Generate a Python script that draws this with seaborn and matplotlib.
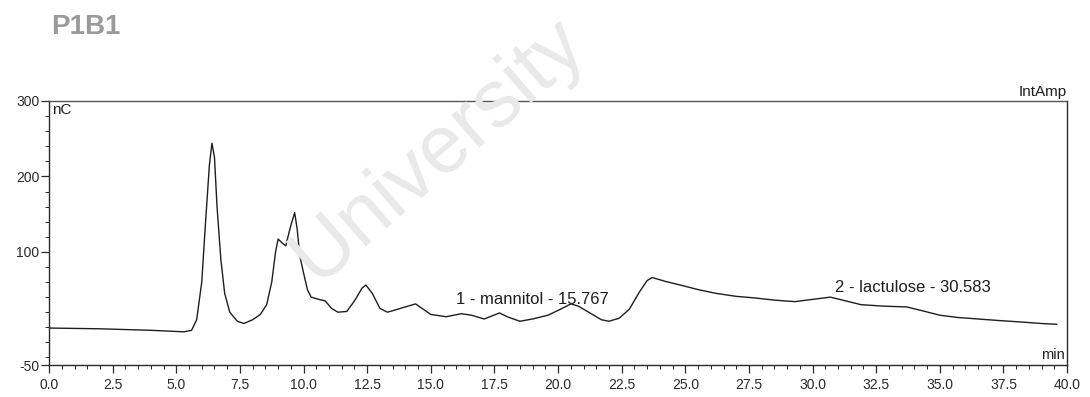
import numpy as np
import pandas as pd
import matplotlib
matplotlib.use("Agg")
import matplotlib.pyplot as plt
import seaborn as sns
from matplotlib.ticker import MultipleLocator, FixedLocator

# Chromatogram trace: retention time (min) and detector response (nC)
time_min = [0.0, 2.0, 4.0, 5.3, 5.6, 5.8, 6.0, 6.15, 6.3, 6.4, 6.5, 6.6, 6.75, 6.9,
            7.1, 7.4, 7.65, 8.0, 8.3, 8.55, 8.75, 8.9, 9.0, 9.15, 9.3, 9.5, 9.65,
            9.75, 9.85, 10.0, 10.15, 10.3, 10.6, 10.85, 11.1, 11.35, 11.7, 12.0,
            12.3, 12.45, 12.7, 13.0, 13.3, 13.7, 14.0, 14.4, 14.7, 15.0, 15.6,
            16.2, 16.6, 17.1, 17.7, 18.0, 18.5, 19.0, 19.6, 20.1, 20.5, 20.8,
            21.2, 21.7, 22.0, 22.4, 22.8, 23.2, 23.5, 23.7, 24.2, 24.8, 25.5,
            26.2, 27.0, 27.7, 28.5, 29.3, 30.0, 30.7, 31.3, 31.9, 32.8, 33.7,
            34.3, 35.0, 35.7, 36.5, 37.3, 38.2, 39.0, 39.6]
response_nc = [-1, -2, -4, -6, -4, 10, 60, 140, 215, 244, 225, 160, 90, 45,
               20, 8, 5, 10, 17, 30, 60, 100, 117, 112, 108, 135, 152,
               130, 95, 72, 50, 40, 37, 35, 25, 20, 21, 35,
               52, 56, 45, 25, 20, 24, 27, 31, 24, 17, 14,
               18, 16, 11, 19, 14, 8, 11, 16, 24, 31, 28,
               20, 10, 8, 12, 24, 47, 62, 66, 61, 56, 50,
               45, 41, 39, 36, 34, 37, 40, 35, 30, 28, 27,
               22, 16, 13, 11, 9, 7, 5, 4]

# Identified peaks
peak_names = ["1 - mannitol - 15.767", "2 - lactulose - 30.583"]
peak_label_x = [19.0, 33.95]
peak_label_y = [37, 53]

x_ticks = [0.0, 2.5, 5.0, 7.5, 10.0, 12.5, 15.0, 17.5, 20.0, 22.5, 25.0,
           27.5, 30.0, 32.5, 35.0, 37.5, 40.0]
y_ticks = [-50, 100, 200, 300]

sns.set_style("white")
plt.rcParams["font.family"] = ["Liberation Sans", "DejaVu Sans"]

df = pd.DataFrame({"time": time_min, "nC": response_nc})

fig = plt.figure(figsize=(10.9, 3.97), dpi=100)

# Faint diagonal watermark behind the chart
fig.text(0.290, 0.285, "University", fontsize=59, color="#e9e9e9",
         rotation=41, rotation_mode="anchor", ha="left", va="baseline", zorder=0)

ax = fig.add_axes([0.045, 0.0806, 0.934, 0.665])
ax.patch.set_alpha(0)

sns.lineplot(data=df, x="time", y="nC", ax=ax, color="#1e1e1e",
             linewidth=1.0, estimator=None, sort=False)

ax.set_xlim(0, 40)
ax.set_ylim(-50, 300)
ax.set_xlabel("")
ax.set_ylabel("")

for side in ["left", "right", "top", "bottom"]:
    ax.spines[side].set_visible(True)
    ax.spines[side].set_color("#2a2a2a")
    ax.spines[side].set_linewidth(1.0)
ax.spines["top"].set_color("#555555")

ax.xaxis.set_major_locator(FixedLocator(x_ticks))
ax.xaxis.set_minor_locator(MultipleLocator(0.5))
ax.set_xticklabels([f"{v:.1f}" for v in x_ticks])
ax.yaxis.set_major_locator(FixedLocator(y_ticks))
ax.yaxis.set_minor_locator(FixedLocator(list(range(-40, 300, 20))))
ax.set_yticklabels([str(v) for v in y_ticks])

ax.tick_params(axis="x", which="major", direction="out", length=6, width=0.9,
               colors="#2a2a2a", labelsize=10, pad=3, bottom=True)
ax.tick_params(axis="x", which="minor", direction="out", length=3, width=0.7,
               colors="#2a2a2a", bottom=True)
ax.tick_params(axis="y", which="major", direction="out", length=6, width=0.9,
               colors="#2a2a2a", labelsize=10, pad=1, left=True)
ax.tick_params(axis="y", which="minor", direction="out", length=3, width=0.7,
               colors="#2a2a2a", left=True)
ax.grid(False)

# Axis unit annotations
ax.text(0.1, 298, "nC", fontsize=11, ha="left", va="top", color="#1e1e1e")
ax.text(40, 302, "IntAmp", fontsize=11, ha="right", va="bottom", color="#1e1e1e")
ax.text(39.9, -46, "min", fontsize=10.5, ha="right", va="bottom", color="#1e1e1e")

for name, lx, ly in zip(peak_names, peak_label_x, peak_label_y):
    ax.text(lx, ly, name, fontsize=12, ha="center", va="center", color="#1e1e1e")

fig.text(0.047, 0.932, "P1B1", fontsize=20, fontweight="bold", color="#9a9a9a",
         ha="left", va="center")

fig.savefig("out.png", dpi=100, facecolor="white")
